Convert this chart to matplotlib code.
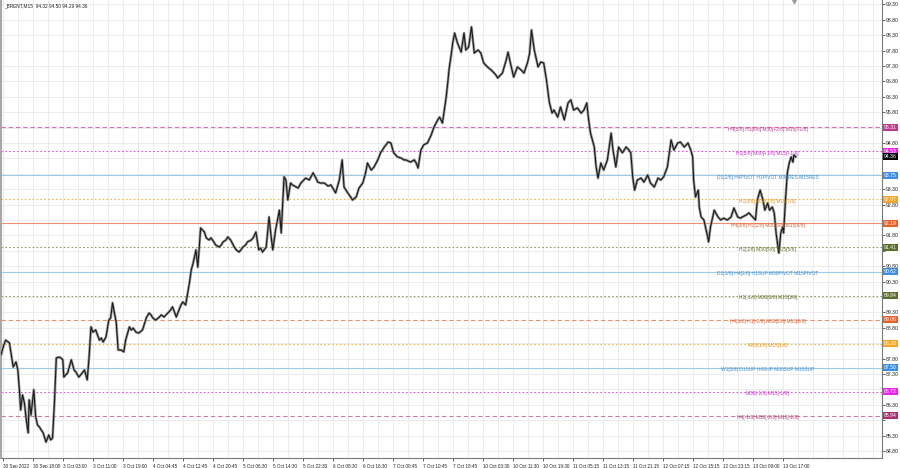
import matplotlib
matplotlib.use("Agg")
import matplotlib.pyplot as plt
import matplotlib.transforms as mtransforms
from matplotlib import font_manager

names = {f.name for f in font_manager.fontManager.ttflist}
FAM = "Liberation Sans Narrow" if "Liberation Sans Narrow" in names else "Liberation Sans"
plt.rcParams["font.family"] = [FAM, "DejaVu Sans"]

# ---------------- data ----------------
title_text = "_BRENT,M15  94.32 94.50 94.29 94.36"

bars = [0, 3, 5, 9, 11, 13, 16, 18, 20, 21, 23, 25, 27, 29, 30, 32, 35, 37, 39, 41, 43, 45, 48, 51, 53, 55,
        57, 59, 62, 64, 66, 67, 69, 71, 75, 78, 80, 83, 85, 89, 92, 94, 96, 98, 101, 105, 107, 109, 112, 115,
        117, 119, 123, 125, 128, 131, 133, 137, 139, 141, 144, 147, 151, 155, 158, 160, 162, 165, 169, 171,
        174, 176, 179, 181, 183, 187, 190, 192, 194, 197, 201, 203, 205, 208, 210, 213, 217, 219, 222, 224,
        227, 229, 233, 235, 237, 240, 242, 245, 249, 251, 254, 256, 258, 261, 263, 267, 269, 272, 275, 277,
        279, 283, 286, 288, 290, 293, 297, 299, 302, 304, 306, 309, 311, 315, 317, 320, 325, 329, 333, 336,
        338, 341, 345, 349, 352, 357, 361, 364, 366, 370, 373, 375, 379, 382, 386, 389, 391, 395, 398, 402,
        405, 409, 413, 416, 419, 423, 427, 430, 432, 437, 441, 443, 445, 448, 451, 455, 459, 462, 466, 468,
        471, 473, 475, 477, 478, 480, 482, 484, 487, 491, 494, 496, 499, 502, 505, 509, 512, 515, 519, 523,
        525, 528, 530, 533, 535, 539, 541, 544, 547, 551, 555, 558, 562, 564, 566, 569, 573, 576, 579, 582,
        585, 588, 590, 594, 597, 601, 605, 608, 611, 615, 619, 622, 625, 627, 629, 633, 635, 637, 640, 643,
        647, 651, 653, 656, 659, 663, 667, 670, 672, 674, 676, 679, 683, 686, 690, 693, 697, 701, 704, 707,
        711, 715, 718, 722, 725, 729, 733, 736, 738, 739, 741, 744, 745, 747, 750, 754, 755, 757, 761, 765,
        768, 771, 775, 779, 782, 786, 789, 791, 795, 798, 802, 805, 807, 810, 813, 815, 818, 820, 823, 825,
        827, 829, 830, 832, 834, 835, 837, 839, 841, 843, 845, 846, 848]

close = [87.92, 88.24, 88.40, 88.31, 87.92, 87.53, 87.69, 87.43, 86.62, 86.13, 86.62, 86.36, 85.81, 85.39,
         86.46, 85.97, 86.79, 85.91, 85.64, 85.58, 85.48, 85.39, 85.09, 85.32, 85.16, 85.22,
         86.36, 87.82, 87.85, 87.82, 87.76, 87.20, 87.27, 87.33, 87.76, 87.43, 87.36, 87.20, 87.27, 87.43,
         87.11, 87.85, 88.83, 88.66, 88.73, 88.40, 88.47, 88.34, 88.50, 89.05, 89.12, 89.61, 88.96, 88.08,
         88.08, 88.02, 88.40, 88.83, 88.73, 88.79, 88.66, 88.63, 88.73, 89.12, 89.28, 89.22, 89.12, 89.05,
         89.15, 89.22, 89.15, 89.22, 89.31, 89.38, 89.48, 89.15, 89.38, 89.54, 89.64, 89.54, 90.25, 90.68,
         90.90, 91.33, 90.77, 92.04, 91.91, 91.72, 91.65, 91.72, 91.59, 91.49, 91.42, 91.49, 91.59, 91.65,
         91.75, 91.65, 91.42, 91.33, 91.26, 91.33, 91.42, 91.49, 91.59, 91.65, 91.72, 91.91, 91.33, 91.39,
         91.26, 91.42, 92.40, 91.81, 91.33, 91.98, 92.62, 91.88, 93.70, 93.60, 92.95, 93.50, 93.44, 93.37,
         93.34, 93.50, 93.66, 93.60, 93.83, 93.66, 93.53, 93.50, 93.50, 93.40, 93.44, 93.18, 93.60, 94.25,
         93.37, 93.18, 93.05, 92.95, 93.05, 93.34, 93.50, 93.83, 94.15, 93.92, 94.02, 94.25, 94.48, 94.67,
         94.83, 94.80, 94.48, 94.35, 94.31, 94.25, 94.25, 94.18, 94.25, 94.15, 93.99, 94.57, 94.74, 94.80,
         95.06, 95.32, 95.55, 95.64, 95.45, 95.87, 96.29, 96.85, 97.17, 97.59, 98.05, 98.37, 98.05, 97.75,
         98.37, 97.82, 97.92, 98.57, 97.72, 97.82, 97.72, 97.40, 97.27, 97.17, 97.11, 97.01, 96.91, 97.01,
         97.07, 97.49, 97.75, 97.33, 96.94, 97.27, 97.17, 97.07, 97.43, 97.72, 98.47, 97.82, 97.27, 97.43,
         97.40, 96.85, 96.13, 95.77, 95.87, 95.64, 95.97, 95.55, 96.10, 96.20, 95.87, 95.94, 95.77, 95.87,
         96.10, 95.55, 95.12, 94.67, 94.02, 93.66, 94.15, 93.92, 94.25, 95.12, 94.57, 94.02, 94.67, 94.48,
         94.67, 94.57, 94.48, 93.70, 93.27, 93.60, 93.66, 93.53, 93.76, 93.50, 93.37, 93.66, 93.60, 93.70,
         94.02, 94.90, 94.57, 94.80, 94.83, 94.67, 94.80, 94.57, 94.35, 93.60, 93.05, 93.27, 92.72, 92.40,
         92.30, 91.75, 91.59, 92.07, 92.62, 92.40, 92.30, 92.36, 92.30, 92.40, 92.69, 92.40, 92.36, 92.40,
         92.46, 92.53, 92.40, 92.30, 92.95, 93.27, 92.95, 92.62, 92.85, 92.62, 92.72, 92.53, 91.88, 91.42,
         91.23, 91.88, 92.07, 91.88, 92.95, 93.83, 94.15, 94.35, 94.18, 94.41, 94.35]

last_price = 94.36

time_labels = ["30 Sep 2022", "30 Sep 18:00", "3 Oct 03:00", "3 Oct 11:00", "3 Oct 19:00",
               "4 Oct 04:45", "4 Oct 12:45", "4 Oct 20:45", "5 Oct 06:30", "5 Oct 14:30",
               "5 Oct 22:30", "6 Oct 08:30", "6 Oct 16:30", "7 Oct 00:45", "7 Oct 10:45",
               "7 Oct 18:45", "10 Oct 03:30", "10 Oct 11:30", "10 Oct 19:30", "11 Oct 05:15",
               "11 Oct 13:15", "11 Oct 21:15", "12 Oct 07:15", "12 Oct 15:15", "12 Oct 23:15",
               "13 Oct 09:00", "13 Oct 17:00"]
time_label_bars = [2 + 32 * i for i in range(len(time_labels))]

level_prices = [95.31, 94.53, 93.75, 92.97, 92.19, 91.41, 90.62, 89.84, 89.06, 88.28, 87.50, 86.72, 85.94]
level_texts = ["H4[5/8] H1[6/8] M30[+2/8] M15[+2/8]",
               "H1[5/8] M30[+1/8] M15[+1/8]",
               "D1[2/8] H4PIVOT H1PIVOT M30RES M15RES",
               "H1[3/8] M30[7/8] M15[7/8]",
               "H4[3/8] H1[2/8] M30[6/8] M15[6/8]",
               "H1[1/8] M30[5/8] M15[5/8]",
               "D1[1/8] H4[2/8] H1SUP M30PIVOT M15PIVOT",
               "H1[-1/8] M30[3/8] M15[3/8]",
               "H4[1/8] H1[-2/8] M30[2/8] M15[2/8]",
               "M30[1/8] M15[1/8]",
               "W1[3/8] D1SUP H4SUP M30SUP M15SUP",
               "M30[-1/8] M15[-1/8]",
               "H4[-1/8] M30[-2/8] M15[-2/8]"]
level_kind = ["pink", "magenta", "blue", "orange", "red", "olive", "blue", "olive", "red_dash",
              "orange", "blue", "magenta", "dpink"]

# ---------------- styles ----------------
STY = {
    "pink":    dict(line="#de6fae", text="#c23f96", box="#c2378c", ls=(0, (4, 2.5))),
    "magenta": dict(line="#dd55dd", text="#cc33cc", box="#ee22ee", ls=(0, (1.5, 2))),
    "blue":    dict(line="#9dcbe8", text="#3f8bd0", box="#3d8ee0", ls="-"),
    "orange":  dict(line="#f2b84b", text="#e0951f", box="#f5a623", ls=(0, (1.5, 2))),
    "red":     dict(line="#f0906e", text="#dc6230", box="#e8602a", ls="-"),
    "olive":   dict(line="#8f9c62", text="#62752c", box="#5b6e2a", ls=(0, (1.5, 2))),
    "dpink":   dict(line="#c77fa8", text="#a83878", box="#a8306f", ls=(0, (4, 2.5))),
}
STY["red_dash"] = dict(STY["red"], ls=(0, (4, 2.5)))

W, H = 900, 468
fig = plt.figure(figsize=(W / 100, H / 100), dpi=100)
ax = fig.add_axes([1 / W, 10 / H, 881 / W, 458 / H])
ax.set_xlim(0, 940)
ax.set_ylim(84.573, 99.443)

# grid
for b in range(2, 940, 16):
    ax.axvline(b, color="#e9e9e9", lw=0.6, zorder=0)
yt = [84.80 + 0.5 * i for i in range(30)]
for v in yt:
    ax.axhline(v, color="#e9e9e9", lw=0.6, zorder=0)

# levels
for p, txt, k in zip(level_prices, level_texts, level_kind):
    s = STY[k]
    ax.axhline(p, color=s["line"], lw=0.8, ls=s["ls"], zorder=1)
    ax.annotate(txt, xy=(818, p), xytext=(0, -1.4), textcoords="offset points",
                ha="center", va="center", fontsize=3.5, color=s["text"], zorder=4)

# price series
ax.plot(bars, close, color="#9a9a9a", lw=1.9, zorder=2)
ax.plot(bars, close, color="#1a1a1a", lw=0.8, zorder=3)

# axes styling
ax.spines["top"].set_visible(False)
for sp in ["left", "right", "bottom"]:
    ax.spines[sp].set_color("#7a7a7a")
    ax.spines[sp].set_linewidth(0.8)
ax.spines["left"].set_linewidth(1.5)
ax.spines["left"].set_color("#a8a8a8")

# right price scale; labels hidden where a level box sits on them
marks = level_prices + [last_price]
ax.yaxis.tick_right()
ax.set_yticks(yt)
ax.set_yticklabels(["" if min(abs(v - m) for m in marks) < 0.16 else f"{v:.2f}" for v in yt])
ax.tick_params(axis="y", labelsize=3.7, length=2.0, width=0.5, pad=1.0, colors="#222222")
ax.set_xticks(time_label_bars)
ax.set_xticklabels(time_labels, ha="left")
ax.tick_params(axis="x", labelsize=3.3, length=2.5, width=0.5, pad=1.5, colors="#222222")

# price boxes on the right axis
trans = mtransforms.blended_transform_factory(ax.transAxes, ax.transData)
for p, k in zip(level_prices, level_kind):
    ax.text(1.002, p, f"{p:.2f}", transform=trans, ha="left", va="center", fontsize=3.7,
            color="white", clip_on=False, zorder=6,
            bbox=dict(boxstyle="square,pad=0.2", fc=STY[k]["box"], ec="none"))
ax.text(1.002, last_price, f"{last_price:.2f}", transform=trans, ha="left", va="center",
        fontsize=3.7, color="white", clip_on=False, zorder=7,
        bbox=dict(boxstyle="square,pad=0.2", fc="black", ec="none"))

# chart-shift marker and title
ax.plot([846], [99.41], marker="v", color="#9a9a9a", markersize=3, clip_on=False, zorder=8)
ax.text(0.003, 0.992, title_text, transform=ax.transAxes, ha="left", va="top",
        fontsize=3.4, color="#222222")

fig.savefig("out.png", dpi=100)
